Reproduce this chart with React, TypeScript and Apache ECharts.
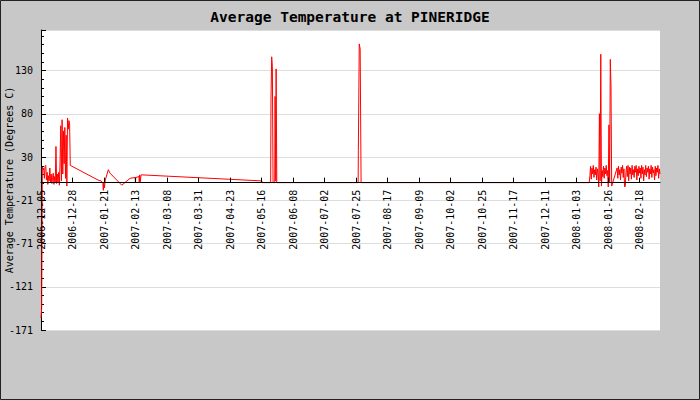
import React, { useEffect, useRef } from "react";
import * as echarts from "echarts";

const TITLE = "Average Temperature at PINERIDGE";
const Y_NAME = "Average Temperature (Degrees C)";

// axis settings
const X_ORIGIN = "2006-12-05T19:00";
const X_END = "2008-03-04T12:00";
const X_TICK_DAYS = 23.14;
const Y_MIN = -171;
const Y_MAX = 177.1;
const Y_TICK = 50.15;

// December 2006 readings, every 12 hours from decStart
const decStart = "2006-12-05T19:00";
const decValues = [
  -157, -146, 18, 15, 17, 5, 19, 20, 3, 12, -2, 8, 2, 17, 0, 10, -1, 6, 11, -2, 7, 1,
  42, -1, 10, 0, 12, -3, 24, 66, 2, 73, 10, 60, 22, 64, 5, 55, -4, 75, 62, 72, 68, 20,
];

// sparse readings (Jan 2007 – Jan 2008)
const sparseTimes = [
  "2007-01-16T17", "2007-01-19T00", "2007-01-20T06", "2007-01-20T14", "2007-01-20T22",
  "2007-01-21T10", "2007-01-22T00", "2007-01-24T06", "2007-01-25T12", "2007-02-03T03",
  "2007-02-09T05", "2007-02-12T22", "2007-02-13T04", "2007-02-13T10", "2007-02-15T18",
  "2007-02-16T00", "2007-02-16T06", "2007-02-16T18", "2007-02-17T06", "2007-02-17T20",
  "2007-05-16T22", "2007-05-17T12", "2007-05-23T12", "2007-05-23T18", "2007-05-24T06",
  "2007-05-24T18", "2007-05-25T06", "2007-05-26T12", "2007-05-26T18", "2007-05-27T06",
  "2007-05-27T12", "2007-05-28T00", "2007-07-26T18", "2007-07-26T22", "2007-07-27T10",
  "2007-07-27T14", "2007-07-28T02", "2007-07-28T06", "2007-07-28T18", "2007-07-28T22",
  "2008-01-12T12",
];
const sparseValues = [
  3, 2, -1, -9, 0,
  -6, 3, 15, 11, -3,
  5, 6, 0, 6, 7,
  0, 9, 1, 9, 9,
  2, 0, 0, 98, 146,
  135, 0, 0, 100, 2,
  132, 0, 0, 37, 37,
  161, 161, 155, 155, 0,
  0,
];

// January 2008 readings, every 12 hours
const jan08Start = "2008-01-13T00:00";
const jan08Values = [
  8, 19, 4, 17, 10, 20, 6, 15, 9, 18, 3, 16, 11, -5, 80, 2, 149, -4, 14, 7, 19, 5, 17,
  10, 20, 8, 14, -5, 67, 1, 143, 112, -4,
];

// February – March 2008 readings, every 12 hours
const feb08Start = "2008-02-02T00:00";
const feb08Values = [
  17, 5, 19, 9, 15, 3, 18, 11, 20, 6, 16, -5, -4, 12, 19, 7, 20, 2, 18, 10, 17, 4, 20,
  9, 15, 6, 19, 12, 20, 3, 16, 8, 19, 11, 17, 5, 20, 10, 18, 2, 15, 9, 20, 7, 17, 12,
  19, 4, 16, 10, 20, 6, 18, 11, 15, 3, 19, 8, 17, 12, 20, 5, 16, 10,
];
const STEP_HOURS = 12;

const DAY = 86400000;
const parseT = (s: string) => {
  const [d, t = "00:00"] = s.split("T");
  const [y, m, dd] = d.split("-").map(Number);
  const [h, mi = 0] = t.split(":").map(Number);
  return Date.UTC(y, m - 1, dd, h, mi);
};
const ORIGIN_MS = parseT(X_ORIGIN);
const toX = (s: string) => (parseT(s) - ORIGIN_MS) / DAY;
const pad = (n: number) => (n < 10 ? "0" + n : "" + n);
const fmtDate = (v: number) => {
  const d = new Date(ORIGIN_MS + v * DAY + 60000);
  return `${d.getUTCFullYear()}-${pad(d.getUTCMonth() + 1)}-${pad(d.getUTCDate())}`;
};

function buildData(): [number, number][] {
  const pts: [number, number][] = [];
  const block = (start: string, vals: number[]) => {
    const x0 = toX(start);
    vals.forEach((v, i) => pts.push([x0 + (i * STEP_HOURS) / 24, v]));
  };
  block(decStart, decValues);
  sparseTimes.forEach((t, i) => pts.push([toX(t), sparseValues[i]]));
  block(jan08Start, jan08Values);
  block(feb08Start, feb08Values);
  pts.sort((a, b) => a[0] - b[0]);
  return pts;
}

const FONT = "DejaVu Sans Mono";
const GRID = { left: 41, right: 40, top: 30, bottom: 70 };
const PLOT_H = 400 - GRID.top - GRID.bottom;
// place the x axis on the zero line
const X_AXIS_OFFSET = -((0 - Y_MIN) / (Y_MAX - Y_MIN)) * PLOT_H;

export default function App() {
  const ref = useRef<HTMLDivElement>(null);
  useEffect(() => {
    const chart = echarts.init(ref.current!, null, { renderer: "svg" });
    chart.setOption({
      animation: false,
      backgroundColor: "#c8c8c8",
      title: {
        text: TITLE,
        left: "center",
        top: 4,
        textStyle: { fontFamily: FONT, fontWeight: "bold", fontSize: 14.5, color: "#000" },
      },
      graphic: [
        {
          type: "rect",
          shape: { x: 0.5, y: 0.5, width: 699, height: 399 },
          style: { fill: "none", stroke: "#222", lineWidth: 1 },
          silent: true,
        },
      ],
      grid: {
        ...GRID,
        show: true,
        backgroundColor: "#ffffff",
        borderWidth: 0,
        containLabel: false,
        outerBoundsMode: "none",
      },
      xAxis: {
        type: "value",
        position: "bottom",
        offset: X_AXIS_OFFSET,
        min: 0,
        max: toX(X_END),
        interval: X_TICK_DAYS,
        z: 3,
        axisLine: { onZero: false, lineStyle: { color: "#000", width: 1 } },
        axisTick: { show: true, inside: true, length: 5, lineStyle: { color: "#000" } },
        axisLabel: {
          rotate: 90,
          margin: 7,
          fontFamily: FONT,
          fontSize: 10,
          color: "#000",
          showMaxLabel: false,
          formatter: (v: number) => fmtDate(v),
        },
        splitLine: { show: false },
      },
      yAxis: {
        type: "value",
        min: Y_MIN,
        max: Y_MAX,
        interval: Y_TICK,
        name: Y_NAME,
        nameLocation: "middle",
        nameGap: 27,
        nameRotate: 90,
        nameMoveOverlap: false,
        nameTextStyle: { fontFamily: FONT, fontSize: 10, color: "#000" },
        axisLine: { show: true, onZero: false, lineStyle: { color: "#000", width: 1 } },
        axisTick: { show: true, inside: true, length: 5, lineStyle: { color: "#000" } },
        minorTick: { show: true, splitNumber: 5, length: 3, lineStyle: { color: "#000" } },
        axisLabel: {
          margin: 8,
          fontFamily: FONT,
          fontSize: 10,
          color: "#000",
          showMaxLabel: false,
          formatter: (v: number) => String(Math.round(v)),
        },
        splitLine: { show: true, lineStyle: { color: "#dddddd", width: 1 } },
      },
      series: [
        {
          type: "line",
          data: buildData(),
          showSymbol: false,
          symbol: "none",
          lineStyle: { color: "#ff0000", width: 1 },
          itemStyle: { color: "#ff0000" },
          z: 2,
        },
      ],
    });
    return () => chart.dispose();
  }, []);
  return (
    <div
      ref={ref}
      style={{ position: "fixed", left: 0, top: 0, width: 700, height: 400 }}
    />
  );
}
